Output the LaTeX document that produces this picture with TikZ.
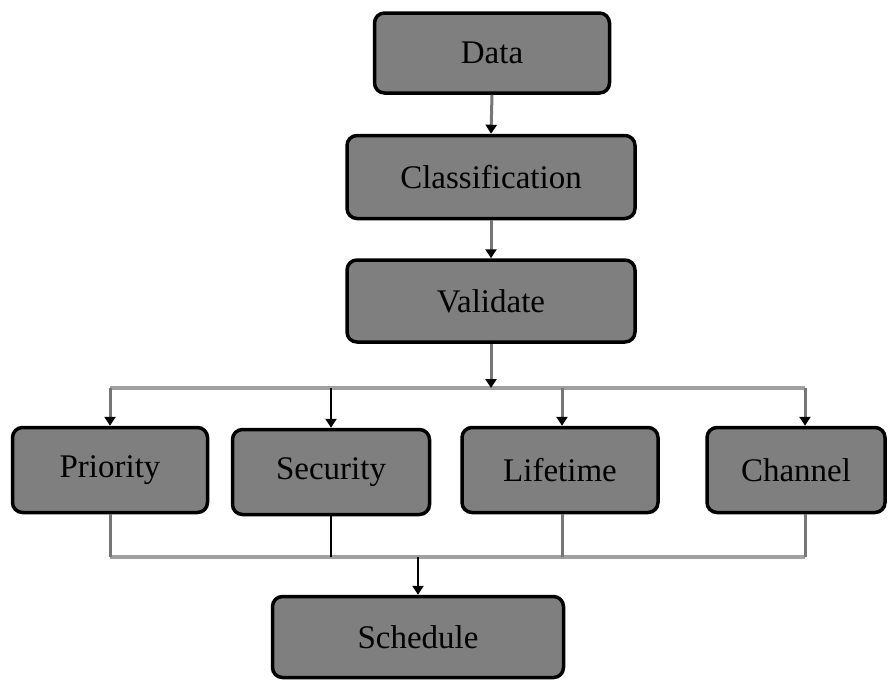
\documentclass[tikz,border=0pt]{standalone}
\usepackage{fontspec}
\setmainfont{Liberation Serif}
\usetikzlibrary{arrows.meta}
\definecolor{boxgray}{HTML}{7F7F7F}
\definecolor{conngray}{HTML}{767676}
\definecolor{busgray}{HTML}{A0A0A0}
\begin{document}
\begin{tikzpicture}[x=1pt,y=-1pt,
  box/.style={draw=black, line width=3.5pt, fill=boxgray, rounded corners=10pt, inner sep=0pt, font=\fontsize{33}{38}\selectfont},
  conn/.style={line width=3pt, draw=conngray},
  darkconn/.style={line width=2.5pt, draw=black},
  arr/.style={-{Triangle[width=11pt,length=9pt,color=black,fill=black]}},
  bus/.style={line width=4pt, draw=busgray}]
\useasboundingbox (0,0) rectangle (888,681);
% main chain
\node[box, minimum width=235pt, minimum height=80pt] (data) at (492,53) {Data};
\node[box, minimum width=288pt, minimum height=83pt] (class) at (491,177) {Classification};
\node[box, minimum width=288pt, minimum height=82pt] (valid) at (491,301) {Validate};
% branches
\node[box, minimum width=195pt, minimum height=85pt] (pri) at (110,470) {Priority};
\node[box, minimum width=197pt, minimum height=85pt] (sec) at (331,472) {Security};
\node[box, minimum width=196pt, minimum height=85pt] (life) at (560,470) {Lifetime};
\node[box, minimum width=178pt, minimum height=85pt] (chan) at (796,470) {Channel};
\node[box, minimum width=291pt, minimum height=81pt] (sched) at (418,637) {Schedule};
% bus coordinates
\coordinate (tv) at (491,388);
\coordinate (t1) at (110,388);
\coordinate (t2) at (331,388);
\coordinate (t3) at (562,388);
\coordinate (t4) at (805,388);
\coordinate (b1) at (110,557);
\coordinate (b2) at (331,557);
\coordinate (b3) at (562,557);
\coordinate (b4) at (805,557);
\coordinate (bs) at (418,557);
% buses
\draw[bus] (t1) -- (t4);
\draw[bus] (b1) -- (b4);
% chain arrows
\draw[conn, arr] (data.south) -- (class.north);
\draw[conn, arr] (class.south) -- (valid.north);
\draw[conn, arr] (valid.south) -- (tv);
% drops to branches
\draw[conn, arr] (t1) -- (t1 |- pri.north);
\draw[darkconn, arr] (t2) -- (t2 |- sec.north);
\draw[conn, arr] (t3) -- (t3 |- life.north);
\draw[conn, arr] (t4) -- (t4 |- chan.north);
% collectors
\draw[conn] (b1 |- pri.south) -- (b1);
\draw[darkconn] (b2 |- sec.south) -- (b2);
\draw[conn] (b3 |- life.south) -- (b3);
\draw[conn] (b4 |- chan.south) -- (b4);
\draw[darkconn, arr] (bs) -- (sched.north);
\end{tikzpicture}
\end{document}
